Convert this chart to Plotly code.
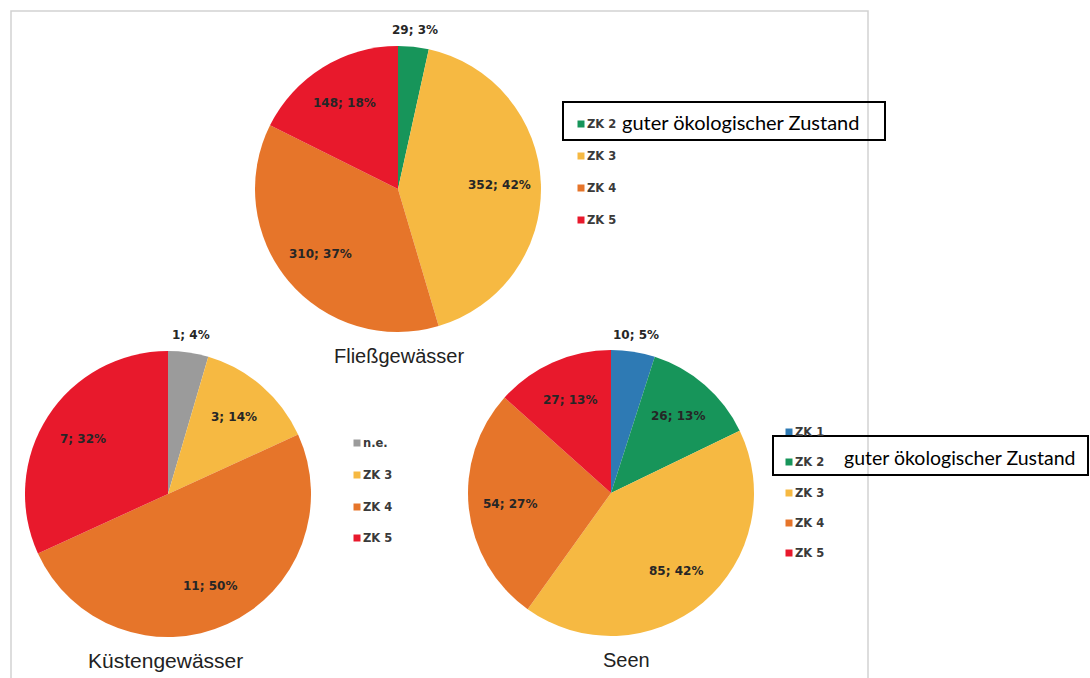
import math
import plotly.graph_objects as go

# --- data -------------------------------------------------------------
fluss_labels = ["ZK 2", "ZK 3", "ZK 4", "ZK 5"]
fluss_values = [29, 352, 310, 148]
fluss_pct = [3, 42, 37, 18]

kueste_labels = ["n.e.", "ZK 3", "ZK 4", "ZK 5"]
kueste_values = [1, 3, 11, 7]
kueste_pct = [4, 14, 50, 32]

seen_labels = ["ZK 1", "ZK 2", "ZK 3", "ZK 4", "ZK 5"]
seen_values = [10, 26, 85, 54, 27]
seen_pct = [5, 13, 42, 27, 13]

titles = ["Fließgewässer", "Küstengewässer", "Seen"]
highlight_text = "guter ökologischer Zustand"

class_colors = {
    "n.e.": "#9b9b9b",
    "ZK 1": "#2e7ab4",
    "ZK 2": "#17955a",
    "ZK 3": "#f6b942",
    "ZK 4": "#e6752a",
    "ZK 5": "#e8192c",
}

# --- layout constants (pixels) ----------------------------------------
W, H = 1090, 678
R = 143
LABEL_FONT = dict(family="DejaVu Sans, sans-serif", size=12, color="#262626")
LEGEND_FONT = dict(family="DejaVu Sans, sans-serif", size=11.5, color="#3a3a3a")
BOX_FONT_FAMILY = "Lato, Calibri, sans-serif"

charts = [
    dict(labels=fluss_labels, values=fluss_values, pct=fluss_pct, title=titles[0],
         center=(398, 189), title_pos=(399, 356), title_size=20,
         legend_x=581, legend_y=[124, 156, 188, 220], box=(563, 102, 885, 140),
         box_text_pos=(620, 122), box_size=20),
    dict(labels=kueste_labels, values=kueste_values, pct=kueste_pct, title=titles[1],
         center=(168, 494), title_pos=(165, 660), title_size=21,
         legend_x=357, legend_y=[443, 475, 507, 538], box=None, box_text_pos=None, box_size=None),
    dict(labels=seen_labels, values=seen_values, pct=seen_pct, title=titles[2],
         center=(611, 493), title_pos=(626, 660), title_size=20,
         legend_x=789, legend_y=[432, 462, 493, 523, 553], box=(773, 436, 1088, 475),
         box_text_pos=(842, 457), box_size=19.5),
]


def px(x, y):
    return x / W, 1 - y / H


fig = go.Figure()
annotations = []
shapes = []

# light frame around the chart area
shapes.append(dict(type="rect", xref="paper", yref="paper",
                   x0=11 / W, x1=868 / W, y0=-0.05, y1=1 - 11 / H,
                   line=dict(color="#d2d2d2", width=1.5), fillcolor="rgba(0,0,0,0)"))

for ch in charts:
    cx, cy = ch["center"]
    fig.add_trace(go.Pie(
        labels=ch["labels"], values=ch["values"],
        marker=dict(colors=[class_colors[l] for l in ch["labels"]], line=dict(width=0)),
        sort=False, direction="clockwise", rotation=0,
        textinfo="none", hoverinfo="label+value+percent", showlegend=False,
        domain=dict(x=[(cx - R) / W, (cx + R) / W], y=[1 - (cy + R) / H, 1 - (cy - R) / H]),
    ))

    # data labels "value; percent" along each slice bisector
    total = sum(ch["values"])
    cum = 0
    for v, p in zip(ch["values"], ch["pct"]):
        mid = (cum + v / 2) / total * 2 * math.pi
        cum += v
        frac = 1.12 if p <= 5 else 0.71
        lx = cx + frac * R * math.sin(mid)
        ly = cy - frac * R * math.cos(mid)
        x, y = px(lx, ly)
        annotations.append(dict(x=x, y=y, xref="paper", yref="paper", text=f"<b>{v}; {p}%</b>",
                                showarrow=False, font=LABEL_FONT, xanchor="center", yanchor="middle"))

    # chart title
    tx, ty = px(*ch["title_pos"])
    annotations.append(dict(x=tx, y=ty, xref="paper", yref="paper", text=ch["title"],
                            showarrow=False,
                            font=dict(family="Liberation Sans, Arial, sans-serif",
                                      size=ch["title_size"], color="#222222"),
                            xanchor="center", yanchor="middle"))

    # legend: square marker + class name
    lx0 = ch["legend_x"]
    for lab, yy in zip(ch["labels"], ch["legend_y"]):
        sx0, sy0 = px(lx0 - 3.5, yy - 3.5)
        sx1, sy1 = px(lx0 + 3.5, yy + 3.5)
        shapes.append(dict(type="rect", xref="paper", yref="paper", x0=sx0, x1=sx1, y0=sy1, y1=sy0,
                           fillcolor=class_colors[lab], line=dict(width=0)))
        ax, ay = px(lx0 + 4, yy)
        annotations.append(dict(x=ax, y=ay, xref="paper", yref="paper", text=f"<b>{lab}</b>",
                                showarrow=False, font=LEGEND_FONT, xanchor="left", yanchor="middle"))

    # framed note for the good ecological status class
    if ch["box"]:
        bx0, by0, bx1, by1 = ch["box"]
        x0, y0 = px(bx0, by0)
        x1, y1 = px(bx1, by1)
        shapes.append(dict(type="rect", xref="paper", yref="paper", x0=x0, x1=x1, y0=y1, y1=y0,
                           line=dict(color="#000000", width=2), fillcolor="rgba(0,0,0,0)"))
        bx, by = px(*ch["box_text_pos"])
        annotations.append(dict(x=bx, y=by, xref="paper", yref="paper", text=highlight_text,
                                showarrow=False,
                                font=dict(family=BOX_FONT_FAMILY, size=ch["box_size"], color="#000000"),
                                xanchor="left", yanchor="middle"))

fig.update_layout(
    width=W, height=H, margin=dict(l=0, r=0, t=0, b=0),
    paper_bgcolor="white", plot_bgcolor="white",
    annotations=annotations, shapes=shapes,
)

fig.write_html("out.html")
